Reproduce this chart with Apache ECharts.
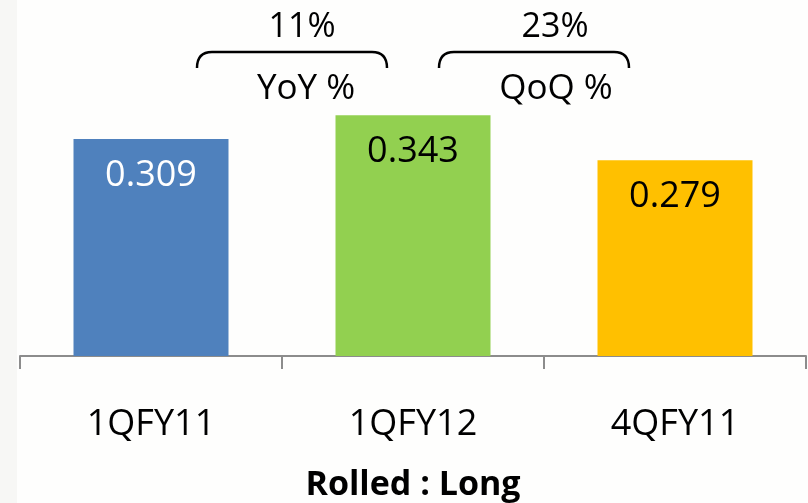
<!DOCTYPE html>
<html>
<head>
<meta charset="utf-8">
<script src="https://cdn.jsdelivr.net/npm/echarts@6/dist/echarts.min.js"></script>
<style>
  html, body { margin: 0; padding: 0; background: #fefefd; }
  #chart { width: 808px; height: 503px; }
</style>
</head>
<body>
<div id="chart"></div>
<script>
// Quarterly values, rolled : long
const categories = ['1QFY11', '1QFY12', '4QFY11'];
const values = [0.309, 0.343, 0.279];
const barColors = ['#4f81bd', '#92d050', '#ffc000'];
const labelColors = ['#ffffff', '#000000', '#000000'];
const axisTitle = 'Rolled : Long';

// Growth callouts placed over the boundary between two categories
const calloutBoundaries = [0, 1];
const calloutValues = ['11%', '23%'];
const calloutCaptions = ['YoY %', 'QoQ %'];

const FONT = '"Open Sans", "Noto Sans", sans-serif';
const chart = echarts.init(document.getElementById('chart'), null, { renderer: 'canvas' });

const option = {
  backgroundColor: '#fefefd',
  animation: false,
  grid: { left: 20, right: 2, top: 5, bottom: 147, containLabel: false, outerBoundsMode: 'none' },
  xAxis: {
    type: 'category',
    data: categories,
    boundaryGap: true,
    axisLine: { show: true, lineStyle: { color: '#8c8c8c', width: 2 } },
    axisTick: { show: true, length: 13, lineStyle: { color: '#8c8c8c', width: 2 } },
    axisLabel: { color: '#000', fontFamily: FONT, fontSize: 36, margin: 51 },
    name: axisTitle,
    nameLocation: 'middle',
    nameGap: 112,
    nameTextStyle: { color: '#000', fontFamily: FONT, fontSize: 34, fontWeight: 'bold' }
  },
  yAxis: {
    type: 'value',
    min: 0,
    max: 0.5,
    show: false,
    splitLine: { show: false }
  },
  series: [{
    type: 'bar',
    barWidth: 155,
    data: values.map((v, i) => ({
      value: v,
      itemStyle: { color: barColors[i] },
      label: { color: labelColors[i] }
    })),
    label: {
      show: true,
      position: ['50%', 37],
      align: 'center',
      verticalAlign: 'middle',
      fontFamily: FONT,
      fontSize: 36,
      formatter: p => p.value.toFixed(3)
    }
  }]
};

chart.setOption(option);

// Braces and captions above the bars, anchored on the category boundaries
function drawCallouts() {
  const elements = [
    // faint slide strip along the left edge
    { type: 'rect', z: -10, shape: { x: 0, y: 0, width: 17, height: 503 }, style: { fill: '#f7f7f5' }, silent: true }
  ];
  const line = { stroke: '#000', lineWidth: 2.5, fill: null };
  // horizontal nudges of brace / number / caption relative to the boundary
  const braceShift = [10, -10];
  const valueShift = [20, 11];
  const captionShift = [24, 12];
  calloutBoundaries.forEach((b, i) => {
    const left = chart.convertToPixel({ xAxisIndex: 0 }, categories[b]);
    const right = chart.convertToPixel({ xAxisIndex: 0 }, categories[b + 1]);
    const mid = (left + right) / 2;
    const cx = mid + braceShift[i];
    const half = 95;
    const x0 = cx - half, x1 = cx + half;
    const top = 52, end = 68, r = 15;
    elements.push({
      type: 'bezierCurve', silent: true,
      shape: { x1: x0, y1: end, cpx1: x0, cpy1: top, x2: x0 + r, y2: top },
      style: line
    });
    elements.push({
      type: 'line', silent: true,
      shape: { x1: x0 + r, y1: top, x2: x1 - r, y2: top },
      style: line
    });
    elements.push({
      type: 'bezierCurve', silent: true,
      shape: { x1: x1 - r, y1: top, cpx1: x1, cpy1: top, x2: x1, y2: end },
      style: line
    });
    elements.push({
      type: 'text', silent: true,
      x: mid + valueShift[i], y: 27,
      style: { text: calloutValues[i], fontFamily: FONT, fontSize: 34, fill: '#000', align: 'center', verticalAlign: 'middle' }
    });
    elements.push({
      type: 'text', silent: true,
      x: mid + captionShift[i], y: 89,
      style: { text: calloutCaptions[i], fontFamily: FONT, fontSize: 35, fill: '#000', align: 'center', verticalAlign: 'middle' }
    });
  });
  chart.setOption({ graphic: { elements } });
}
drawCallouts();
</script>
</body>
</html>
